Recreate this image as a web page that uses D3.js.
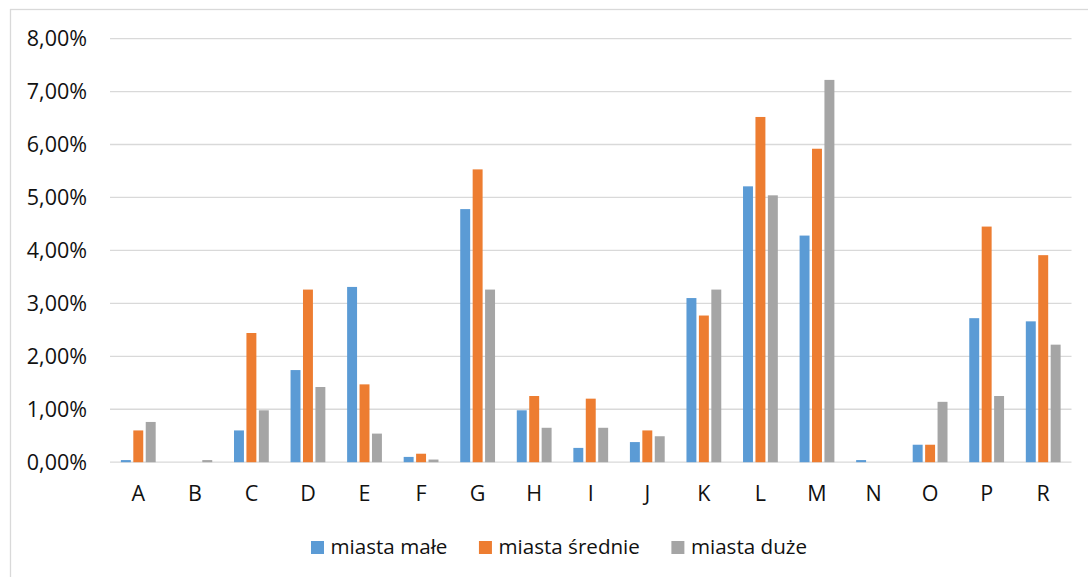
<!DOCTYPE html>
<html>
<head>
<meta charset="utf-8">
<script src="https://cdn.jsdelivr.net/npm/d3@7"></script>
<style>
  html, body { margin: 0; padding: 0; background: #fff; }
  svg { display: block; }
  text { font-family: "Open Sans", sans-serif; fill: #111; }
</style>
</head>
<body>
<svg id="chart" width="1088" height="577"></svg>
<script>
const categories = ["A","B","C","D","E","F","G","H","I","J","K","L","M","N","O","P","R"];
const seriesNames = ["miasta małe", "miasta średnie", "miasta duże"];
const miastaMale    = [0.04, 0.00, 0.60, 1.74, 3.31, 0.10, 4.78, 0.98, 0.27, 0.38, 3.10, 5.21, 4.28, 0.04, 0.33, 2.72, 2.66];
const miastaSrednie = [0.60, 0.00, 2.44, 3.26, 1.47, 0.16, 5.53, 1.25, 1.20, 0.60, 2.77, 6.52, 5.92, 0.00, 0.33, 4.45, 3.91];
const miastaDuze    = [0.76, 0.04, 0.98, 1.42, 0.54, 0.05, 3.26, 0.65, 0.65, 0.49, 3.26, 5.04, 7.22, 0.00, 1.14, 1.25, 2.22];
const yTicks = [0, 1, 2, 3, 4, 5, 6, 7, 8];
const colors = ["#5B9BD5", "#ED7D31", "#A5A5A5"];

const seriesValues = [miastaMale, miastaSrednie, miastaDuze];
const AXIS_FONT = 21.5;
const LEGEND_FONT = 20.6;

const svg = d3.select("#chart");

// outer chart border (top and left visible)
svg.append("rect")
  .attr("x", 10.5).attr("y", 9.5)
  .attr("width", 1120).attr("height", 600)
  .attr("fill", "none").attr("stroke", "#d9d9d9").attr("stroke-width", 1.3);

const plotLeft = 110, plotRight = 1071.5;
const x = d3.scaleBand().domain(categories).range([plotLeft, plotRight]).padding(0);
const y = d3.scaleLinear().domain([0, 8]).range([462.2, 38.6]);
const xs = d3.scaleBand().domain(seriesNames).range([-17.4, 17.4]).paddingInner(0.2);

// gridlines
svg.append("g").selectAll("line").data(yTicks).join("line")
  .attr("x1", plotLeft).attr("x2", plotRight)
  .attr("y1", d => y(d)).attr("y2", d => y(d))
  .attr("stroke", "#d9d9d9").attr("stroke-width", 1.3);

// y axis labels
const yAxis = d3.axisLeft(y).tickValues(yTicks).tickSize(0).tickPadding(0)
  .tickFormat(d => d.toFixed(2).replace(".", ",") + "%");
const gy = svg.append("g").attr("transform", "translate(87,0.5)").call(yAxis);
gy.select(".domain").remove();
gy.selectAll("text").style("font-size", AXIS_FONT + "px").attr("fill", "#111")
  .style("font-family", "'Open Sans', sans-serif");

// x axis labels
const xAxis = d3.axisBottom(x).tickSize(0).tickPadding(0);
const gx = svg.append("g").attr("transform", "translate(0,486)").call(xAxis);
gx.select(".domain").remove();
gx.selectAll("text").style("font-size", AXIS_FONT + "px").attr("fill", "#111")
  .style("font-family", "'Open Sans', sans-serif");

// bars
seriesNames.forEach((s, si) => {
  svg.append("g").selectAll("rect").data(seriesValues[si]).join("rect")
    .attr("x", (d, i) => x(categories[i]) + x.bandwidth() / 2 + xs(s))
    .attr("width", xs.bandwidth())
    .attr("y", d => y(d))
    .attr("height", d => y(0) - y(d))
    .attr("fill", colors[si]);
});

// legend
const legend = svg.append("g");
const items = legend.selectAll("g").data(seriesNames).join("g");
items.append("rect").attr("width", 13).attr("height", 13).attr("y", -13)
  .attr("fill", (d, i) => colors[i]);
items.append("text").attr("x", 19.5).attr("y", 0).style("font-size", LEGEND_FONT + "px").text(d => d);
const widths = [];
items.each(function(d, i) {
  const w = 19.5 + d3.select(this).select("text").node().getComputedTextLength();
  widths.push(w);
});
const gap = 31.5;
const total = d3.sum(widths) + gap * (widths.length - 1);
let start = 559 - total / 2;
items.attr("transform", (d, i) => {
  const t = `translate(${start},554)`;
  start += widths[i] + gap;
  return t;
});
</script>
</body>
</html>
